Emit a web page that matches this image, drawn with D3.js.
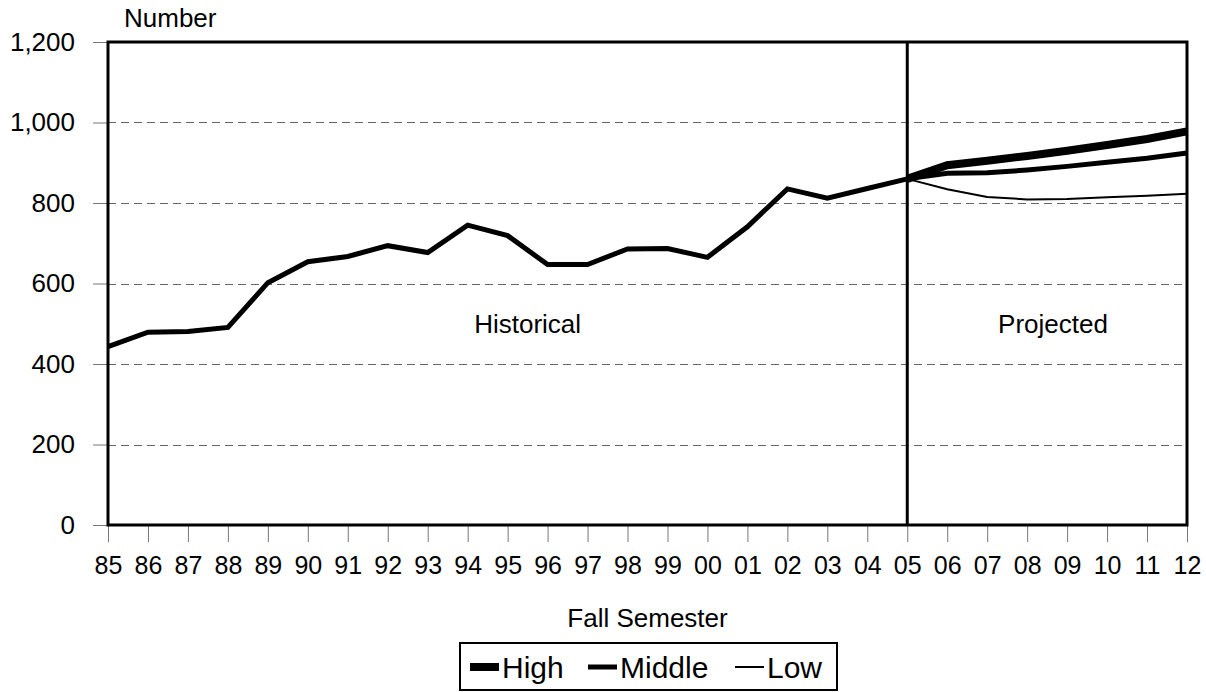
<!DOCTYPE html>
<html>
<head>
<meta charset="utf-8">
<script src="https://cdn.jsdelivr.net/npm/d3@7"></script>
<style>
  body { margin: 0; background: #fff; }
  svg { display: block; font-family: "Liberation Sans", Arial, sans-serif; }
</style>
</head>
<body>
<div id="chart"></div>
<script>
const years = ["85","86","87","88","89","90","91","92","93","94","95","96","97","98","99",
  "00","01","02","03","04","05","06","07","08","09","10","11","12"];
const histYears = years.slice(0, 21);
const projYears = years.slice(20);

const historical = [443, 479, 481, 491, 602, 654, 667, 694, 677, 745, 719, 647, 647, 686,
  687, 665, 741, 835, 812, 836, 860];
const high = [860, 894, 905, 917, 930, 944, 959, 978];
const middle = [860, 874, 875, 882, 891, 901, 911, 924];
const low = [860, 834, 815, 809, 810, 814, 818, 823];
const yTicks = [0, 200, 400, 600, 800, 1000, 1200];

const width = 1206, height = 692;
const plotL = 108, plotR = 1187, plotT = 42, plotB = 525;

const svg = d3.select("#chart").append("svg")
  .attr("width", width)
  .attr("height", height);

const x = d3.scalePoint().domain(years).range([plotL, plotR]);
const y = d3.scaleLinear().domain([0, 1200]).range([plotB, plotT]);

// dashed gridlines
svg.append("g")
  .selectAll("line")
  .data(yTicks.filter(d => d > 0 && d < 1200))
  .enter().append("line")
    .attr("x1", plotL).attr("x2", plotR)
    .attr("y1", d => Math.round(y(d)) + 0.5).attr("y2", d => Math.round(y(d)) + 0.5)
    .attr("stroke", "#666")
    .attr("stroke-dasharray", "8,5");

// y axis ticks + labels
const yAxis = svg.append("g")
  .attr("transform", `translate(${plotL},0)`)
  .call(d3.axisLeft(y).tickValues(yTicks).tickSize(15).tickPadding(18).tickFormat(d3.format(",")));
yAxis.select(".domain").remove();
yAxis.selectAll(".tick line").attr("stroke", "#777");
yAxis.selectAll("text").attr("font-size", 26).attr("fill", "#000")
  .attr("font-family", "Liberation Sans, Arial, sans-serif");

// x axis ticks + labels
const xAxis = svg.append("g")
  .attr("transform", `translate(0,${plotB})`)
  .call(d3.axisBottom(x).tickSize(17).tickPadding(14));
xAxis.select(".domain").remove();
xAxis.selectAll(".tick line").attr("stroke", "#777");
xAxis.selectAll("text").attr("font-size", 25).attr("fill", "#000")
  .attr("font-family", "Liberation Sans, Arial, sans-serif");

const line = d3.line().x(d => x(d[0])).y(d => y(d[1]));
const pairs = (ks, vs) => ks.map((k, i) => [k, vs[i]]);

// projected lines
svg.append("path").datum(pairs(projYears, low))
  .attr("d", line).attr("fill", "none").attr("stroke", "#000").attr("stroke-width", 2);
svg.append("path").datum(pairs(projYears, middle))
  .attr("d", line).attr("fill", "none").attr("stroke", "#000").attr("stroke-width", 5);
svg.append("path").datum(pairs(projYears, high))
  .attr("d", line).attr("fill", "none").attr("stroke", "#000").attr("stroke-width", 8);

// historical line
svg.append("path").datum(pairs(histYears, historical))
  .attr("d", line).attr("fill", "none").attr("stroke", "#000").attr("stroke-width", 5)
  .attr("stroke-linejoin", "miter");

// plot frame and divider
svg.append("rect")
  .attr("x", plotL).attr("y", plotT)
  .attr("width", plotR - plotL).attr("height", plotB - plotT)
  .attr("fill", "none").attr("stroke", "#000").attr("stroke-width", 3);
svg.append("line")
  .attr("x1", x("05")).attr("x2", x("05"))
  .attr("y1", plotT).attr("y2", plotB)
  .attr("stroke", "#000").attr("stroke-width", 3);

// labels
svg.append("text").attr("x", 124).attr("y", 27).attr("font-size", 26).text("Number");
svg.append("text").attr("x", (plotL + plotR) / 2).attr("y", 627)
  .attr("text-anchor", "middle").attr("font-size", 26).text("Fall Semester");
svg.append("text").attr("x", (x("95") + x("96")) / 2).attr("y", 333)
  .attr("text-anchor", "middle").attr("font-size", 26).text("Historical");
svg.append("text").attr("x", 1053).attr("y", 333)
  .attr("text-anchor", "middle").attr("font-size", 26).text("Projected");

// legend
const legendItems = [
  { name: "High", w: 8, x: 470 },
  { name: "Middle", w: 5, x: 588 },
  { name: "Low", w: 2, x: 735 }
];
svg.append("rect")
  .attr("x", 460).attr("y", 643).attr("width", 377).attr("height", 47)
  .attr("fill", "#fff").attr("stroke", "#000").attr("stroke-width", 2);
const legend = svg.selectAll(".legend-item")
  .data(legendItems)
  .enter().append("g")
    .attr("class", "legend-item")
    .attr("transform", d => `translate(${d.x},667)`);
legend.append("line")
  .attr("x1", 0).attr("x2", 29)
  .attr("stroke", "#000").attr("stroke-width", d => d.w);
legend.append("text")
  .attr("x", 32).attr("y", 11)
  .attr("font-size", 30)
  .text(d => d.name);
</script>
</body>
</html>
